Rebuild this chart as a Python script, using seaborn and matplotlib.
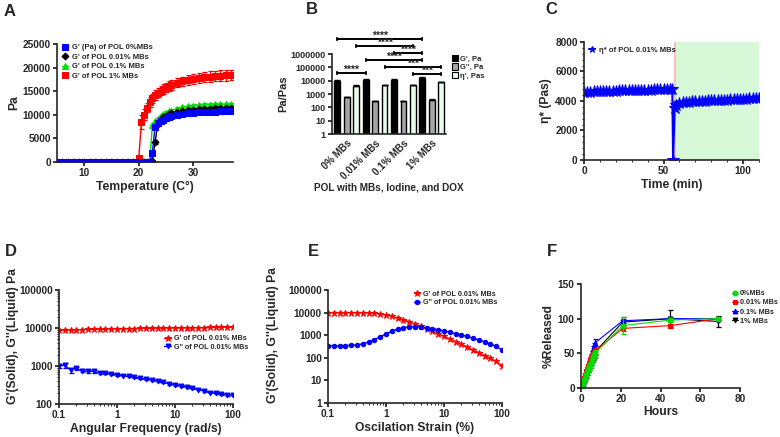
import numpy as np
import pandas as pd
import matplotlib
matplotlib.use("Agg")
import matplotlib.pyplot as plt
import seaborn as sns
from matplotlib.patches import Patch
from matplotlib.ticker import MultipleLocator, FixedLocator

# ---------------- data ----------------
# A: temperature sweep, G' (Pa)
temp = [5, 6, 7, 8, 9, 10, 11, 12, 13, 14, 15, 16, 17, 18, 19, 20, 20.5, 21, 21.5, 22,
        22.5, 23, 23.5, 24, 24.5, 25, 25.5, 26, 27, 28, 29, 30, 31, 32, 33, 34, 35, 36, 37]
g_mb0 = [0] * 20 + [1900, 7500, 8200, 8700, 9000, 9300, 9500, 9700, 9950, 10150, 10300,
                    10400, 10500, 10550, 10600, 10650, 10700, 10700, 10750]
g_mb001 = [0] * 20 + [200, 4200, 8000, 9000, 9500, 9800, 10100, 10300, 10600, 10800, 11000,
                      11100, 11200, 11250, 11300, 11350, 11400, 11400, 11450]
g_mb01 = [0] * 20 + [7800, 8600, 9200, 9700, 10100, 10400, 10700, 10900, 11300, 11600, 11800,
                     11950, 12050, 12100, 12150, 12200, 12250, 12250, 12300]
g_mb1 = [0] * 15 + [800, 8500, 10000, 11500, 12700, 13500, 14200, 14700, 15100, 15500, 15800,
                    16100, 16300, 16800, 17100, 17400, 17600, 17800, 17950, 18100, 18200,
                    18300, 18350, 18400]
err_mb0 = [0] * 20 + [200] * 19
err_mb001 = [0] * 20 + [300] * 19
err_mb01 = [0] * 20 + [300] * 19
err_mb1 = [0] * 15 + [600, 1500, 1200, 1000, 1000, 1000, 1000, 1000, 1000, 1000, 1000, 1000,
                      1000, 1000, 1000, 1100, 1100, 1100, 1100, 1100, 1100, 1100, 1100, 1100]

# B: moduli / viscosity per formulation
groups = ["0% MBs", "0.01% MBs", "0.1% MBs", "1% MBs"]
measures = ["G', Pa", "G'', Pa", "η', Pas"]
b_gp = [10000, 11500, 11500, 17000]
b_gpp = [550, 280, 280, 380]
b_eta = [4000, 4700, 4700, 8000]
b_gp_err = [800, 900, 900, 2500]
b_gpp_err = [60, 40, 30, 30]
b_eta_err = [400, 300, 400, 500]
# significance brackets: (bar from, bar to, log10 height, stars)
brackets = [(0, 9, 7.1, "****"), (2, 8, 6.6, "****"), (6, 9, 6.1, "****"),
            (3, 9, 5.57, "****"), (5, 11, 5.03, "***"), (0, 3, 4.58, "****"),
            (8, 11, 4.52, "***")]

# C: thixotropy, complex viscosity
time_min = [0, 2, 4, 6, 8, 10, 12, 14, 16, 18, 20, 22, 24, 26, 28, 30, 32, 34, 36, 38, 40,
            42, 44, 46, 48, 50, 52, 54, 55.5, 56, 57, 58, 60, 62, 64, 66, 68, 70, 72, 74,
            76, 78, 80, 82, 84, 86, 88, 90, 92, 94, 96, 98, 100, 102, 104, 106, 108, 110]
eta_c = [4600, 4620, 4640, 4650, 4660, 4670, 4680, 4690, 4700, 4700, 4710, 4720, 4720, 4730,
         4740, 4740, 4750, 4750, 4760, 4760, 4770, 4770, 4780, 4780, 4780, 4790, 4790, 4800,
         4800, 0, 3500, 3750, 3850, 3900, 3930, 3960, 3980, 4000, 4010, 4020, 4030, 4040,
         4050, 4060, 4070, 4080, 4090, 4100, 4110, 4120, 4130, 4140, 4150, 4160, 4170, 4180,
         4190, 4200]
recovery_start = 57

# D: frequency sweep
freq = [0.1, 0.126, 0.158, 0.2, 0.251, 0.316, 0.398, 0.501, 0.631, 0.794, 1.0, 1.26, 1.58,
        2.0, 2.51, 3.16, 3.98, 5.01, 6.31, 7.94, 10, 12.6, 15.8, 20, 25.1, 31.6, 39.8, 50.1,
        63.1, 79.4, 100]
d_gp = [8700, 8800, 8900, 9000, 9100, 9200, 9300, 9350, 9400, 9500, 9550, 9600, 9650, 9700,
        9750, 9800, 9850, 9900, 9950, 10000, 10050, 10100, 10150, 10200, 10250, 10300, 10350,
        10400, 10450, 10500, 10500]
d_gpp = [1000, 1050, 780, 870, 750, 720, 720, 660, 650, 610, 580, 560, 530, 500, 470, 450,
         430, 400, 370, 340, 320, 300, 280, 260, 240, 220, 200, 190, 180, 175, 170]
d_gpp_err = [100, 150, 120, 90, 60, 50, 50, 40, 40, 30, 30, 30, 30, 25, 25, 20, 20, 20, 20,
             15, 15, 15, 15, 12, 12, 10, 10, 10, 10, 10, 10]

# E: amplitude sweep
strain = [0.1, 0.126, 0.158, 0.2, 0.251, 0.316, 0.398, 0.501, 0.631, 0.794, 1.0, 1.26, 1.58,
          2.0, 2.51, 3.16, 3.98, 5.01, 6.31, 7.94, 10, 12.6, 15.8, 20, 25.1, 31.6, 39.8, 50.1,
          63.1, 79.4, 100]
e_gp = [10000, 10000, 10000, 10000, 10000, 10000, 9900, 9700, 9300, 8700, 7800, 6800, 5800,
        4800, 3900, 3100, 2500, 1900, 1500, 1150, 880, 680, 520, 400, 300, 225, 170, 125, 95,
        70, 45]
e_gpp = [340, 340, 345, 350, 355, 370, 420, 500, 640, 850, 1150, 1500, 1850, 2150, 2350, 2400,
         2300, 2150, 1950, 1750, 1550, 1350, 1180, 1020, 880, 740, 620, 510, 410, 320, 220]

# F: DOX release
hours = [0, 0.5, 1, 1.5, 2, 2.5, 3, 3.5, 4, 4.5, 5, 5.5, 6, 6.5, 7, 21, 45, 69]
rel_mb0 = [0, 3, 7, 11, 15, 19, 23, 27, 30, 33, 36, 40, 44, 47, 50, 90, 98, 100]
rel_mb001 = [0, 4, 9, 14, 19, 24, 28, 32, 36, 40, 43, 46, 49, 51, 53, 86, 90, 100]
rel_mb01 = [0, 3, 8, 13, 18, 22, 26, 31, 35, 40, 45, 50, 56, 60, 65, 97, 100, 100]
rel_mb1 = [0, 2, 6, 10, 14, 18, 22, 26, 30, 33, 37, 41, 45, 48, 52, 95, 100, 96]
rel_err0 = [0, 1, 2, 2, 3, 3, 3, 3, 4, 4, 4, 4, 5, 5, 5, 12, 3, 2]
rel_err001 = [0, 1, 1, 2, 2, 2, 3, 3, 3, 3, 4, 4, 4, 4, 4, 4, 3, 3]
rel_err01 = [0, 1, 1, 2, 2, 2, 3, 3, 3, 4, 4, 4, 5, 5, 5, 3, 2, 2]
rel_err1 = [0, 1, 1, 2, 2, 3, 3, 3, 4, 4, 4, 4, 5, 5, 5, 8, 12, 8]

# ---------------- style ----------------
sns.set_style("ticks")
plt.rcParams['font.family'] = ['Liberation Sans', 'DejaVu Sans']
plt.rcParams['font.weight'] = 'bold'
plt.rcParams['axes.labelweight'] = 'bold'
plt.rcParams['axes.linewidth'] = 1.2
plt.rcParams['xtick.major.width'] = 1.1
plt.rcParams['ytick.major.width'] = 1.1
plt.rcParams['xtick.major.size'] = 3
plt.rcParams['ytick.major.size'] = 3
plt.rcParams['xtick.minor.size'] = 1.6
plt.rcParams['ytick.minor.size'] = 1.6
plt.rcParams['xtick.major.pad'] = 1.5
plt.rcParams['ytick.major.pad'] = 1.5
plt.rcParams['xtick.labelsize'] = 7.3
plt.rcParams['ytick.labelsize'] = 7.3
plt.rcParams['axes.labelsize'] = 8.7

BLUE = "#0000ff"
RED = "#ff0000"
GREEN = "#00dd00"
W, H = 780, 437

fig = plt.figure(figsize=(7.8, 4.37), dpi=100)


def box(l, t, r, b):
    return [l / W, 1 - b / H, (r - l) / W, (b - t) / H]


def series(ax, x, y, color, marker, label, ms=4, err=None, lw=1.0, mec=None):
    sns.lineplot(x=x, y=y, color=color, marker=marker, markersize=ms, linewidth=lw,
                 markeredgecolor=mec or color, label=label, ax=ax, sort=False, legend=False)
    if err is not None:
        ax.errorbar(x, y, yerr=err, fmt="none", ecolor=color, elinewidth=0.9, capsize=1.8,
                    capthick=0.9)


def legend(ax, size=5.5, **kw):
    opts = dict(frameon=False, prop={'size': size, 'weight': 'bold'}, handlelength=0.9,
                handletextpad=0.4, labelspacing=0.3, borderaxespad=0.2)
    opts.update(kw)
    return ax.legend(**opts)


for txt, x, y in [("A", 10, 12), ("B", 312, 10), ("C", 551, 10),
                  ("D", 11, 252), ("E", 313, 252), ("F", 552, 252)]:
    fig.text(x / W, 1 - y / H, txt, fontsize=12, fontweight="bold", va="center", ha="center")

# ---- A
axA = fig.add_axes(box(57, 44, 233, 162))
series(axA, temp, g_mb1, RED, "s", "G' of POL 1% MBs", err=err_mb1)
series(axA, temp, g_mb01, GREEN, "^", "G' of POL 0.1% MBs", err=err_mb01)
series(axA, temp, g_mb001, "black", "D", "G' of POL 0.01% MBs", ms=3.5, err=err_mb001)
series(axA, temp, g_mb0, BLUE, "s", "G' (Pa) of POL 0%MBs", err=err_mb0)
axA.set_xlim(5, 37.3)
axA.set_ylim(0, 25000)
axA.set_yticks([0, 5000, 10000, 15000, 20000, 25000])
axA.set_xticks([10, 20, 30])
axA.set_xlabel("Temperature (C°)", labelpad=2)
axA.set_ylabel("Pa", labelpad=2)
h, l = axA.get_legend_handles_labels()
legend(axA, handles=h[::-1], labels=l[::-1], loc="upper left", bbox_to_anchor=(0.0, 1.04))

# ---- B
axB = fig.add_axes(box(332, 54, 446, 134))
df_b = pd.DataFrame({
    "group": groups * 3,
    "measure": [measures[0]] * 4 + [measures[1]] * 4 + [measures[2]] * 4,
    "value": b_gp + b_gpp + b_eta,
})
bar_colors = ["black", "#a6a6a6", "#e6ffe6"]
axB.set_yscale("log")
sns.barplot(data=df_b, x="group", y="value", hue="measure", palette=bar_colors, width=1.0,
            gap=0.38, edgecolor="black", linewidth=1.0, errorbar=None, legend=False, ax=axB)
for hi, (vals, errs) in enumerate([(b_gp, b_gp_err), (b_gpp, b_gpp_err), (b_eta, b_eta_err)]):
    xs = [g + (hi - 1) / 3 for g in range(len(groups))]
    axB.errorbar(xs, vals, yerr=[[0] * 4, errs], fmt="none", ecolor="black", elinewidth=1.0,
                 capsize=2, capthick=1.0)


def bar_x(k):
    return k // 3 + (k % 3 - 1) / 3


for k1, k2, lv, stars in brackets:
    yv = 10 ** lv
    axB.plot([bar_x(k1), bar_x(k2)], [yv, yv], color="black", lw=1.4, marker="|",
             markersize=3.5, markeredgewidth=1.1, clip_on=False)
    axB.text((bar_x(k1) + bar_x(k2)) / 2, yv, stars, ha="center", va="baseline",
             fontsize=7.5, fontweight="bold", clip_on=False)
axB.set_ylim(1, 1e6)
axB.set_xlim(-0.52, 3.5)
axB.yaxis.set_major_locator(FixedLocator([1, 10, 100, 1000, 1e4, 1e5, 1e6]))
axB.set_yticklabels(["1", "10", "100", "1000", "10000", "100000", "1000000"])
axB.yaxis.set_minor_locator(FixedLocator([]))
axB.tick_params(axis="y", labelsize=6.5)
axB.set_xticks(range(4))
axB.set_xticklabels(groups, rotation=45, ha="right", rotation_mode="anchor", fontsize=7)
axB.tick_params(axis="x", length=0, pad=3)
axB.set_xlabel("POL with MBs, Iodine, and DOX", labelpad=1, fontsize=7.2)
axB.set_ylabel("Pa/Pas", labelpad=2, fontsize=8)
patches = [Patch(facecolor=c, edgecolor="black", linewidth=0.8, label=m)
           for c, m in zip(bar_colors, measures)]
axB.legend(handles=patches, frameon=False, prop={'size': 5.5, 'weight': 'bold'},
           handlelength=0.7, handleheight=0.9, handletextpad=0.3, labelspacing=0.1,
           loc="upper left", bbox_to_anchor=(1.03, 1.03), borderaxespad=0)

# ---- C
axC = fig.add_axes(box(584, 42, 759, 160))
axC.axvspan(recovery_start, 110, color="#d6f8d6", lw=0, zorder=0)
axC.axvline(recovery_start, color="#ffb3b3", lw=1.2, zorder=0.5)
series(axC, time_min, eta_c, BLUE, "*", "η* of POL 0.01% MBs", ms=9, lw=1.5)
axC.set_xlim(0, 110)
axC.set_ylim(0, 8000)
axC.set_yticks([0, 2000, 4000, 6000, 8000])
axC.set_xticks([0, 50, 100])
axC.yaxis.set_minor_locator(MultipleLocator(400))
axC.xaxis.set_minor_locator(MultipleLocator(10))
axC.set_xlabel("Time (min)", labelpad=2)
axC.set_ylabel("η* (Pas)", labelpad=2)
legend(axC, loc="upper left", bbox_to_anchor=(0.0, 1.0), markerscale=0.5)

# ---- D
axD = fig.add_axes(box(59, 290, 233, 404))
series(axD, freq, d_gp, RED, "*", "G' of POL 0.01% MBs", ms=5)
series(axD, freq, d_gpp, BLUE, "v", "G'' of POL 0.01% MBs", ms=3.5, err=d_gpp_err)
axD.set_xscale("log")
axD.set_yscale("log")
axD.set_xlim(0.1, 100)
axD.set_ylim(100, 100000)
axD.set_xticks([0.1, 1, 10, 100])
axD.set_xticklabels(["0.1", "1", "10", "100"])
axD.set_yticks([100, 1000, 10000, 100000])
axD.set_yticklabels(["100", "1000", "10000", "100000"])
axD.set_xlabel("Angular Frequency (rad/s)", labelpad=2)
axD.set_ylabel("G'(Solid), G''(Liquid) Pa")
axD.yaxis.set_label_coords(-0.23, 0.6)
legend(axD, size=5.2, loc="center left", bbox_to_anchor=(0.58, 0.535), labelspacing=0.2)

# ---- E
axE = fig.add_axes(box(328, 290, 502, 403))
series(axE, strain, e_gp, RED, "*", "G' of POL 0.01% MBs", ms=5)
series(axE, strain, e_gpp, BLUE, "o", "G'' of POL 0.01% MBs", ms=3.2)
axE.set_xscale("log")
axE.set_yscale("log")
axE.set_xlim(0.1, 100)
axE.set_ylim(1, 100000)
axE.set_xticks([0.1, 1, 10, 100])
axE.set_xticklabels(["0.1", "1", "10", "100"])
axE.set_yticks([1, 10, 100, 1000, 10000, 100000])
axE.set_yticklabels(["1", "10", "100", "1000", "10000", "100000"])
axE.set_xlabel("Oscilation Strain (%)", labelpad=2)
axE.set_ylabel("G'(Solid), G''(Liquid) Pa")
axE.yaxis.set_label_coords(-0.28, 0.6)
legend(axE, size=5.2, loc="upper right", bbox_to_anchor=(1.0, 1.03), labelspacing=0.2)

# ---- F
axF = fig.add_axes(box(581, 284, 740, 388))
series(axF, hours, rel_mb1, "black", "v", "1% MBs", ms=3.5, err=rel_err1, lw=0.8)
series(axF, hours, rel_mb01, BLUE, "^", "0.1% MBs", ms=3.5, err=rel_err01, lw=0.8)
series(axF, hours, rel_mb001, RED, "s", "0.01% MBs", ms=3.5, err=rel_err001, lw=0.8)
series(axF, hours, rel_mb0, GREEN, "o", "0%MBs", ms=3.5, err=rel_err0, lw=0.8)
axF.set_xlim(0, 80)
axF.set_ylim(0, 150)
axF.set_xticks([0, 20, 40, 60, 80])
axF.set_yticks([0, 50, 100, 150])
axF.set_xlabel("Hours", labelpad=1)
axF.set_ylabel("%Released", labelpad=2)
h, l = axF.get_legend_handles_labels()
legend(axF, size=5.2, handles=h[::-1], labels=l[::-1], loc="upper left",
       bbox_to_anchor=(0.93, 0.97), borderaxespad=0, handletextpad=0.3, handlelength=0.8)

for ax in [axA, axB, axC, axD, axE, axF]:
    sns.despine(ax=ax)
    ax.tick_params(which="both", direction="out", color="black")

fig.savefig("out.png", dpi=100)
